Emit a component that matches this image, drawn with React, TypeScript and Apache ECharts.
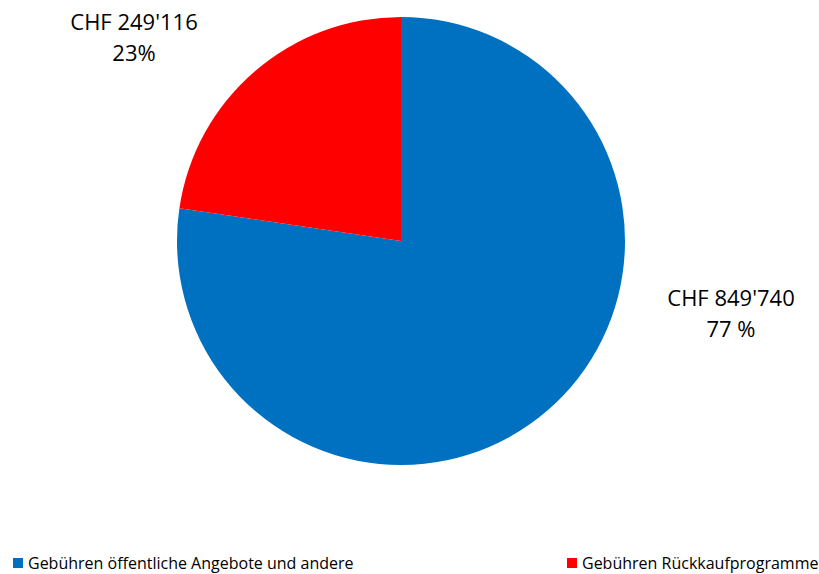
import React, { useEffect, useRef } from "react";
import * as echarts from "echarts";

const categories = ["Gebühren öffentliche Angebote und andere", "Gebühren Rückkaufprogramme"];
const values = [849740, 249116];
const percentLabels = ["77 %", "23%"];
const colors = ["#0070C0", "#FF0000"];

function fmt(v: number): string {
  return String(v).replace(/\B(?=(\d{3})+(?!\d))/g, "'");
}

export default function App() {
  const ref = useRef<HTMLDivElement>(null);
  useEffect(() => {
    if (!ref.current) return;
    const chart = echarts.init(ref.current, null, { renderer: "svg" });
    const labelPos = [
      { x: 731, y: 312 },
      { x: 134, y: 36 },
    ];
    chart.setOption({
      animation: false,
      backgroundColor: "#ffffff",
      textStyle: { fontFamily: "Open Sans" },
      legend: categories.map((c, i) => ({
        data: [c],
        left: i === 0 ? 13 : 567,
        top: 555,
        padding: 0,
        icon: "rect",
        itemWidth: 10,
        itemHeight: 10,
        itemGap: 0,
        selectedMode: false,
        textStyle: { fontFamily: "Open Sans", fontSize: 16, lineHeight: 16, color: "#000" },
      })),
      series: [
        {
          type: "pie",
          center: [401, 241],
          radius: [0, 224],
          startAngle: 90,
          clockwise: true,
          data: categories.map((c, i) => ({
            name: c,
            value: values[i],
            itemStyle: { color: colors[i] },
          })),
          label: {
            show: true,
            position: "outside",
            formatter: (p: any) => `CHF ${fmt(p.value)}\n${percentLabels[p.dataIndex]}`,
            fontFamily: "Open Sans",
            fontSize: 22,
            lineHeight: 31,
            color: "#000",
            align: "center",
          },
          labelLine: { show: false },
          labelLayout: (params: any) => ({
            x: labelPos[params.dataIndex].x,
            y: labelPos[params.dataIndex].y,
            align: "center",
            verticalAlign: "middle",
          }),
          emphasis: { disabled: true },
        },
      ],
    });
    return () => chart.dispose();
  }, []);
  return <div ref={ref} style={{ position: "fixed", left: 0, top: 0, width: 819, height: 574 }} />;
}
